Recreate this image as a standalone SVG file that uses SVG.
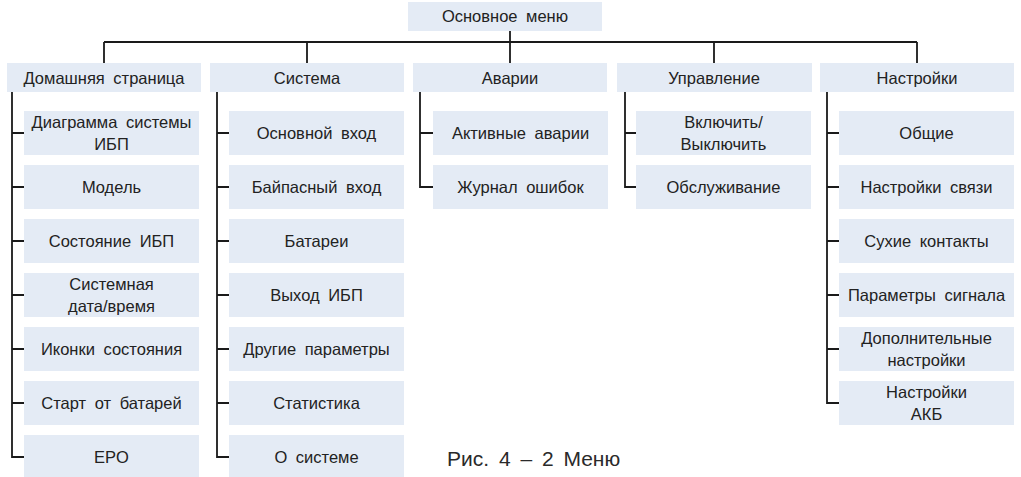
<svg xmlns="http://www.w3.org/2000/svg" width="1021" height="477" viewBox="0 0 1021 477">
<style>
.b{fill:#e4ebf5}
.t{font-family:"Liberation Sans",Arial,sans-serif;font-size:16.5px;fill:#222;text-anchor:middle;word-spacing:4px}
.c{fill:none;stroke:#1a1a1a;stroke-width:1.8}
.cap{font-family:"Liberation Sans",Arial,sans-serif;font-size:21px;fill:#2a2a2a;word-spacing:4px}
</style>
<rect width="1021" height="477" fill="#fff"/>
<g id="connectors" class="c">
<path d="M510 31V42M104 42H917M104 42V63M307 42V63M510 42V63M714 42V63M917 42V63"/>
<path d="M12 92V457H24M12 133H24M12 187H24M12 241H24M12 295H24M12 349H24M12 403H24"/>
<path d="M217 92V457H229M217 133H229M217 187H229M217 241H229M217 295H229M217 349H229M217 403H229"/>
<path d="M420 92V187H433M420 133H433"/>
<path d="M625 92V187H636M625 133H636"/>
<path d="M827 92V403H839M827 133H839M827 187H839M827 241H839M827 295H839M827 349H839"/>
</g>
<g id="root"><rect class="b" x="408" y="2" width="194" height="29"/><text class="t" x="505" y="22">Основное меню</text></g>
<g id="home"><rect class="b" x="7" y="63" width="194" height="29"/><text class="t" x="104" y="83.5">Домашняя страница</text></g>
<g id="system"><rect class="b" x="210" y="63" width="194" height="29"/><text class="t" x="307" y="83.5">Система</text></g>
<g id="alarms"><rect class="b" x="413" y="63" width="194" height="29"/><text class="t" x="510" y="83.5">Аварии</text></g>
<g id="control"><rect class="b" x="617" y="63" width="195" height="29"/><text class="t" x="714" y="83.5">Управление</text></g>
<g id="settings"><rect class="b" x="820" y="63" width="194" height="29"/><text class="t" x="917" y="83.5">Настройки</text></g>

<g id="h1"><rect class="b" x="24" y="111" width="175" height="44"/><text class="t" x="111.5" y="128">Диаграмма системы</text><text class="t" x="111.5" y="150">ИБП</text></g>
<g id="h2"><rect class="b" x="24" y="165" width="175" height="44"/><text class="t" x="111.5" y="193">Модель</text></g>
<g id="h3"><rect class="b" x="24" y="219" width="175" height="44"/><text class="t" x="111.5" y="247">Состояние ИБП</text></g>
<g id="h4"><rect class="b" x="24" y="273" width="175" height="44"/><text class="t" x="111.5" y="290">Системная</text><text class="t" x="111.5" y="312">дата/время</text></g>
<g id="h5"><rect class="b" x="24" y="327" width="175" height="44"/><text class="t" x="111.5" y="355">Иконки состояния</text></g>
<g id="h6"><rect class="b" x="24" y="381" width="175" height="44"/><text class="t" x="111.5" y="409">Старт от батарей</text></g>
<g id="h7"><rect class="b" x="24" y="435" width="175" height="44"/><text class="t" x="111.5" y="463">EPO</text></g>

<g id="s1"><rect class="b" x="229" y="111" width="175" height="44"/><text class="t" x="316.5" y="139">Основной вход</text></g>
<g id="s2"><rect class="b" x="229" y="165" width="175" height="44"/><text class="t" x="316.5" y="193">Байпасный вход</text></g>
<g id="s3"><rect class="b" x="229" y="219" width="175" height="44"/><text class="t" x="316.5" y="247">Батареи</text></g>
<g id="s4"><rect class="b" x="229" y="273" width="175" height="44"/><text class="t" x="316.5" y="301">Выход ИБП</text></g>
<g id="s5"><rect class="b" x="229" y="327" width="175" height="44"/><text class="t" x="316.5" y="355">Другие параметры</text></g>
<g id="s6"><rect class="b" x="229" y="381" width="175" height="44"/><text class="t" x="316.5" y="409">Статистика</text></g>
<g id="s7"><rect class="b" x="229" y="435" width="175" height="44"/><text class="t" x="316.5" y="463">О системе</text></g>

<g id="a1"><rect class="b" x="433" y="111" width="175" height="44"/><text class="t" x="520.5" y="139">Активные аварии</text></g>
<g id="a2"><rect class="b" x="433" y="165" width="175" height="44"/><text class="t" x="520.5" y="193">Журнал ошибок</text></g>

<g id="c1"><rect class="b" x="636" y="111" width="175" height="44"/><text class="t" x="723.5" y="128">Включить/</text><text class="t" x="723.5" y="150">Выключить</text></g>
<g id="c2"><rect class="b" x="636" y="165" width="175" height="44"/><text class="t" x="723.5" y="193">Обслуживание</text></g>

<g id="n1"><rect class="b" x="839" y="111" width="175" height="44"/><text class="t" x="926.5" y="139">Общие</text></g>
<g id="n2"><rect class="b" x="839" y="165" width="175" height="44"/><text class="t" x="926.5" y="193">Настройки связи</text></g>
<g id="n3"><rect class="b" x="839" y="219" width="175" height="44"/><text class="t" x="926.5" y="247">Сухие контакты</text></g>
<g id="n4"><rect class="b" x="839" y="273" width="175" height="44"/><text class="t" x="926.5" y="301">Параметры сигнала</text></g>
<g id="n5"><rect class="b" x="839" y="327" width="175" height="44"/><text class="t" x="926.5" y="344">Дополнительные</text><text class="t" x="926.5" y="366">настройки</text></g>
<g id="n6"><rect class="b" x="839" y="381" width="175" height="44"/><text class="t" x="926.5" y="398">Настройки</text><text class="t" x="926.5" y="420">АКБ</text></g>

<text id="caption" class="cap" x="447" y="466">Рис. 4 – 2 Меню</text>
</svg>
